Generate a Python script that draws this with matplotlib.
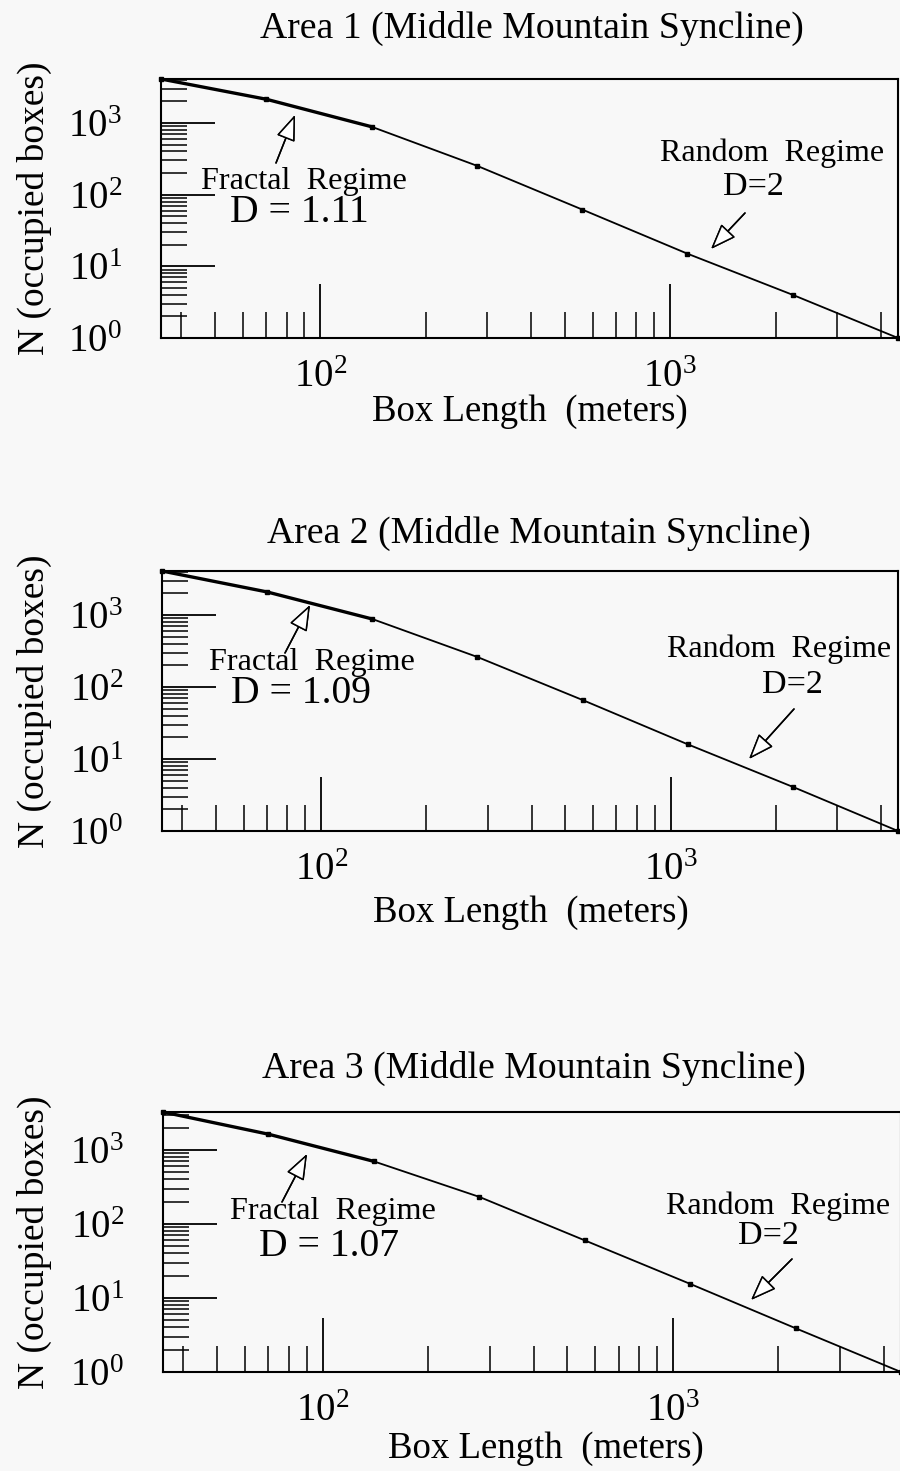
import matplotlib
matplotlib.use("Agg")
import matplotlib.pyplot as plt
import numpy as np
from matplotlib.ticker import LogLocator, NullFormatter

plt.rcParams.update({
    'font.family': 'serif',
    'font.serif': ['Liberation Serif', 'DejaVu Serif'],
    'mathtext.fontset': 'custom',
    'mathtext.rm': 'Liberation Serif',
    'mathtext.it': 'Liberation Serif:italic',
    'mathtext.default': 'regular',
})

# box lengths (m) and occupied boxes for each area
box_length = [35, 70, 140, 280, 560, 1120, 2240, 4480]
n_area1 = [4100, 2140, 885, 253, 62, 15, 4, 1]
n_area2 = [4085, 2090, 880, 261, 66, 16, 4.1, 1]
n_area3 = [3250, 1630, 700, 232, 60, 15.5, 3.9, 1]
dims = ["1.11", "1.09", "1.07"]
titles = ["Area 1 (Middle Mountain Syncline)",
          "Area 2 (Middle Mountain Syncline)",
          "Area 3 (Middle Mountain Syncline)"]
n_fractal = 3  # first points belong to the fractal regime

W, H = 900, 1471
fig = plt.figure(figsize=(W / 100, H / 100), dpi=100)
fig.patch.set_facecolor('#f8f8f8')


def fp(x, y):
    # pixel position -> figure fraction
    return x / W, 1 - y / H


# left, right, top, bottom in pixels
boxes = [(161, 898, 79, 338), (162, 898, 571, 831), (163, 901, 1112, 1372)]
title_pos = [(532, 28), (539, 533), (534, 1068)]
xlab_pos = [(530, 412), (531, 913), (546, 1449)]
fractal_txt = [(304, 181, 299, 213), (312, 662, 301, 693), (333, 1211, 329, 1246)]
fractal_arrow = [((276, 163), (295, 115)), ((285, 653), (310, 605)), ((282, 1202), (307, 1154))]
random_txt = [(772, 153, 753, 187), (779, 649, 792, 685), (778, 1206, 768, 1236)]
random_arrow = [((745, 213), (711, 249)), ((794, 709), (749, 759)), ((792, 1259), (751, 1300))]

arrow_kw = dict(arrowstyle='-|>,head_length=0.8,head_width=0.3', mutation_scale=20,
                fc='white', ec='black', lw=1.1, shrinkA=0, shrinkB=0)

for i, n in enumerate([n_area1, n_area2, n_area3]):
    l, r, t, b = boxes[i]
    ax = fig.add_axes([l / W, 1 - b / H, (r - l) / W, (b - t) / H])
    ax.set_facecolor('none')
    ax.plot(box_length[:n_fractal], n[:n_fractal], color='black', lw=2.4)
    ax.plot(box_length[n_fractal - 1:], n[n_fractal - 1:], color='black', lw=1.3)
    ax.plot(box_length, n, 's', color='black', ms=3, clip_on=False)
    ax.set_xscale('log')
    ax.set_yscale('log')
    ax.set_xlim(box_length[0], box_length[-1])
    ax.set_ylim(1, n[0])

    ax.xaxis.set_major_locator(LogLocator(base=10, numticks=10))
    ax.yaxis.set_major_locator(LogLocator(base=10, numticks=10))
    ax.xaxis.set_minor_locator(LogLocator(base=10, subs=np.arange(2, 10), numticks=20))
    ax.yaxis.set_minor_locator(LogLocator(base=10, subs=np.arange(2, 10), numticks=20))
    ax.xaxis.set_minor_formatter(NullFormatter())
    ax.yaxis.set_minor_formatter(NullFormatter())
    ax.tick_params(which='both', direction='in', top=False, right=False, color='black')
    ax.tick_params(which='major', length=39, width=1.3, labelsize=28)
    ax.tick_params(which='minor', length=19, width=1.1)
    ax.tick_params(axis='x', which='major', pad=15)
    ax.tick_params(axis='y', which='major', pad=28)
    for sp in ax.spines.values():
        sp.set_linewidth(1.5)

    ax.set_ylabel("N (occupied boxes)", fontsize=27)
    ax.yaxis.set_label_coords(-(l - 34) / (r - l), 0.5)
    ax.yaxis.label.set_va('center')

    fig.text(*fp(*xlab_pos[i]), "Box Length  (meters)", fontsize=26.5,
             ha='center', va='center')
    fig.text(*fp(*title_pos[i]), titles[i], fontsize=27.2, ha='center', va='center')

    fx, fy, dx, dy = fractal_txt[i]
    fig.text(*fp(fx, fy), "Fractal  Regime", fontsize=23.2, ha='center', va='center')
    fig.text(*fp(dx, dy), "D = " + dims[i], fontsize=28.5, ha='center', va='center')
    tail, head = fractal_arrow[i]
    fig.add_artist(plt.annotate("", xy=fp(*head), xytext=fp(*tail), xycoords='figure fraction',
                                textcoords='figure fraction', arrowprops=arrow_kw))

    rx, ry, dx2, dy2 = random_txt[i]
    fig.text(*fp(rx, ry), "Random  Regime", fontsize=23, ha='center', va='center')
    fig.text(*fp(dx2, dy2), "D=2", fontsize=24.5, ha='center', va='center')
    tail, head = random_arrow[i]
    fig.add_artist(plt.annotate("", xy=fp(*head), xytext=fp(*tail), xycoords='figure fraction',
                                textcoords='figure fraction', arrowprops=arrow_kw))

fig.savefig("out.png", dpi=100, facecolor=fig.get_facecolor())
